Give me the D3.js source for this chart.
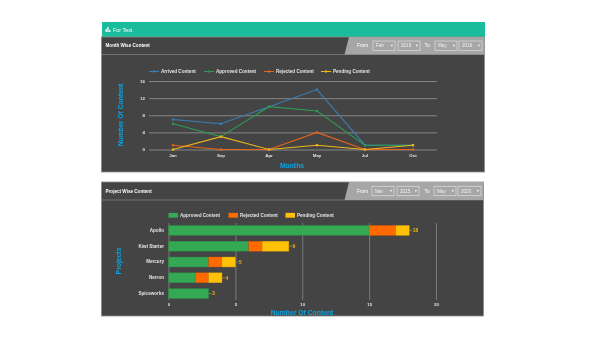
<!DOCTYPE html>
<html>
<head>
<meta charset="utf-8">
<script src="https://d3js.org/d3.v7.min.js"></script>
<style>
  html, body { margin: 0; padding: 0; background: #fff; }
  svg { display: block; filter: blur(0.3px); font-family: "Liberation Sans", Arial, sans-serif; }
</style>
</head>
<body>
<div id="chart"></div>
<script>
const months = ["Jan", "Sep", "Apr", "May", "Jul", "Oct"];
const arrived = [7, 6, 10, 14, 1, 1];
const approved = [6, 3, 10, 9, 1, 1];
const rejected = [1, 0, 0, 4, 0, 0];
const pending = [0, 3, 0, 1, 0, 1];
const monthTicks = [0, 4, 8, 12, 16];

const projects = ["Apollo", "Kiwi Starter", "Mercury", "Nerron", "Spiceworks"];
const projApproved = [15, 6, 3, 2, 3];
const projRejected = [2, 1, 1, 1, 0];
const projPending = [1, 2, 1, 1, 0];
const projTicks = [0, 5, 10, 15, 20];

const PANEL = "#444444", BAR = "#a6a6a6", BLUE = "#0ba5e2", TEAL = "#1abc9c";

const svg = d3.select("#chart").append("svg").attr("width", 590).attr("height", 360);

/* -------- PANELS -------- */

function panel(top, bottom, right, titleBottom, title, filters) {
    const g = svg.append("g");
    g.append("rect").attr("x", 101.5).attr("y", top).attr("width", right - 101.5).attr("height", bottom - top)
        .attr("fill", PANEL).attr("stroke", "#8a8a8a").attr("stroke-width", 0.8);
    g.append("line").attr("x1", 102).attr("x2", right).attr("y1", titleBottom).attr("y2", titleBottom)
        .attr("stroke", "#7d7d7d").attr("stroke-width", 0.8);
    g.append("path")
        .attr("d", `M349,${top}L${right},${top}L${right},${titleBottom}L344.5,${titleBottom}Z`)
        .attr("fill", BAR);
    g.append("text").attr("x", 105.5).attr("y", (top + titleBottom) / 2 + 1.7)
        .attr("fill", "#fff").attr("font-size", 4.6).attr("font-weight", "bold").text(title);

    const cy = (top + titleBottom) / 2;
    const labels = [["From", 357], ["To", 424.5]];
    labels.forEach(d => {
        g.append("text").attr("x", d[1]).attr("y", cy + 1.7).attr("fill", "#fff")
            .attr("font-size", 4.8).text(d[0]);
    });
    filters.forEach(f => {
        g.append("rect").attr("x", f.x).attr("y", cy - 4.7).attr("width", f.w).attr("height", 9.4)
            .attr("fill", BAR).attr("stroke", "#dddddd").attr("stroke-width", 0.7);
        g.append("text").attr("x", f.x + 3).attr("y", cy + 1.7).attr("fill", "#f2f2f2")
            .attr("font-size", 4.6).text(f.label);
        g.append("path")
            .attr("d", `M${f.x + f.w - 4.2},${cy - 0.9}h2.2l-1.1,1.8Z`)
            .attr("fill", "#fff");
    });
}

svg.append("rect").attr("x", 102).attr("y", 22).attr("width", 383).attr("height", 15).attr("fill", TEAL);
svg.append("g").selectAll("rect").data([[105.5, 3], [107.3, 5], [109.1, 2]]).enter().append("rect")
    .attr("x", d => d[0]).attr("y", d => 32 - d[1]).attr("width", 1.3).attr("height", d => d[1]).attr("fill", "#fff");
svg.append("text").attr("x", 113).attr("y", 31.5).attr("fill", "#fff").attr("font-size", 5.4).text("For Text");

panel(37, 172, 484.5, 54.5, "Month Wise Content", [
    { x: 373, w: 22, label: "Feb" }, { x: 398, w: 22, label: "2016" },
    { x: 435, w: 22, label: "May" }, { x: 459, w: 23, label: "2016" }
]);
panel(182, 316, 483.5, 200, "Project Wise Content", [
    { x: 372, w: 22, label: "Mar" }, { x: 397, w: 22, label: "2015" },
    { x: 434, w: 22, label: "May" }, { x: 458, w: 23, label: "2020" }
]);

/* -------- LINE CHART -------- */

const x1 = d3.scaleBand().domain(months).range([149, 437]);
const y1 = d3.scaleLinear().domain([0, 16]).range([149.5, 81]);

const yAxis1 = svg.append("g").attr("transform", "translate(149,0)")
    .call(d3.axisLeft(y1).tickValues(monthTicks).tickSize(-288).tickPadding(4));
const xAxis1 = svg.append("g").attr("transform", "translate(0,149.5)")
    .call(d3.axisBottom(x1).tickSize(0).tickPadding(4));

[yAxis1, xAxis1].forEach(a => {
    a.select(".domain").remove();
    a.selectAll("text").attr("fill", "#e4e4e4").attr("font-size", 4.4).attr("font-weight", "bold");
});
yAxis1.selectAll("line").attr("stroke", "#858585").attr("stroke-width", 1);

const lineSeries = [
    { name: "Arrived Content", values: arrived, color: "#3a7fb5", lx: 149 },
    { name: "Approved Content", values: approved, color: "#2f9a55", lx: 204 },
    { name: "Rejected Content", values: rejected, color: "#e8651c", lx: 264 },
    { name: "Pending Content", values: pending, color: "#f2b61b", lx: 321 }
];

const line = d3.line().x((d, i) => x1(months[i]) + x1.bandwidth() / 2).y(d => y1(d));

lineSeries.forEach(s => {
    const g = svg.append("g");
    g.append("path").attr("d", line(s.values)).attr("fill", "none").attr("stroke", s.color).attr("stroke-width", 1.1);
    g.selectAll("rect").data(s.values).enter().append("rect")
        .attr("x", (d, i) => x1(months[i]) + x1.bandwidth() / 2 - 1.1)
        .attr("y", d => y1(d) - 1.1)
        .attr("width", 2.2).attr("height", 2.2).attr("fill", s.color);

    const l = svg.append("g").attr("transform", `translate(${s.lx},71.5)`);
    l.append("line").attr("x2", 10).attr("stroke", s.color).attr("stroke-width", 1);
    l.append("rect").attr("x", 4).attr("y", -1).attr("width", 2).attr("height", 2).attr("fill", s.color);
    l.append("text").attr("x", 12).attr("y", 1.7).attr("fill", "#e4e4e4").attr("font-size", 4.6)
        .attr("font-weight", "bold").text(s.name);
});

svg.append("text").attr("transform", "translate(123,115) rotate(-90)").attr("text-anchor", "middle")
    .attr("fill", BLUE).attr("font-size", 6.8).attr("font-weight", "bold").text("Number Of Content");
svg.append("text").attr("x", 292).attr("y", 167.5).attr("text-anchor", "middle")
    .attr("fill", BLUE).attr("font-size", 6.8).attr("font-weight", "bold").text("Months");

/* -------- BAR CHART -------- */

const x2 = d3.scaleLinear().domain([0, 20]).range([168.5, 436]);
const y2 = d3.scaleBand().domain(projects).range([222.5, 301.5]).paddingInner(0.37).paddingOuter(0.185);

const xAxis2 = svg.append("g").attr("transform", "translate(0,300)")
    .call(d3.axisBottom(x2).tickValues(projTicks).tickSize(-77).tickPadding(2.5));
xAxis2.select(".domain").remove();
xAxis2.selectAll("line").attr("stroke", "#7f7f7f").attr("stroke-width", 0.9);
xAxis2.selectAll("text").attr("fill", "#e4e4e4").attr("font-size", 4.4).attr("font-weight", "bold");

const yAxis2 = svg.append("g").attr("transform", "translate(168.5,0)")
    .call(d3.axisLeft(y2).tickSize(0).tickPadding(4.5));
yAxis2.select(".domain").remove();
yAxis2.selectAll("text").attr("fill", "#e4e4e4").attr("font-size", 4.6).attr("font-weight", "bold");

const rows = projects.map((p, i) => ({ project: p, approved: projApproved[i], rejected: projRejected[i], pending: projPending[i] }));
const barKeys = ["approved", "rejected", "pending"];
const barColors = { approved: "#34a853", rejected: "#ff6a00", pending: "#ffc107" };
const barNames = { approved: "Approved Content", rejected: "Rejected Content", pending: "Pending Content" };
const stacked = d3.stack().keys(barKeys)(rows);

stacked.forEach(layer => {
    svg.append("g").selectAll("rect").data(layer.filter(d => d[1] > d[0])).enter().append("rect")
        .attr("x", d => x2(d[0]))
        .attr("y", d => y2(d.data.project))
        .attr("width", d => x2(d[1]) - x2(d[0]))
        .attr("height", y2.bandwidth())
        .attr("fill", barColors[layer.key])
        .attr("stroke", d3.color(barColors[layer.key]).darker(0.6))
        .attr("stroke-width", 0.4);
});

const totals = svg.append("g").selectAll("g").data(rows).enter().append("g")
    .attr("transform", d => `translate(${x2(d.approved + d.rejected + d.pending)},${y2(d.project) + y2.bandwidth() / 2})`);
totals.append("line").attr("x2", 3).attr("stroke", "#c9a227").attr("stroke-width", 0.6);
totals.append("text").attr("x", 3.6).attr("y", 1.7).attr("fill", "#f2b61b").attr("font-size", 4.8)
    .attr("font-weight", "bold").text(d => d.approved + d.rejected + d.pending);

const legendX = { approved: 168.5, rejected: 228.5, pending: 285.5 };
barKeys.forEach(k => {
    const l = svg.append("g").attr("transform", `translate(${legendX[k]},215.3)`);
    l.append("rect").attr("y", -2.4).attr("width", 9.5).attr("height", 4.8).attr("fill", barColors[k]);
    l.append("text").attr("x", 11.5).attr("y", 1.7).attr("fill", "#e4e4e4").attr("font-size", 4.6)
        .attr("font-weight", "bold").text(barNames[k]);
});

svg.append("text").attr("transform", "translate(121,261) rotate(-90)").attr("text-anchor", "middle")
    .attr("fill", BLUE).attr("font-size", 6.8).attr("font-weight", "bold").text("Projects");
svg.append("text").attr("x", 302).attr("y", 315).attr("text-anchor", "middle")
    .attr("fill", BLUE).attr("font-size", 6.8).attr("font-weight", "bold").text("Number Of Content");
</script>
</body>
</html>
